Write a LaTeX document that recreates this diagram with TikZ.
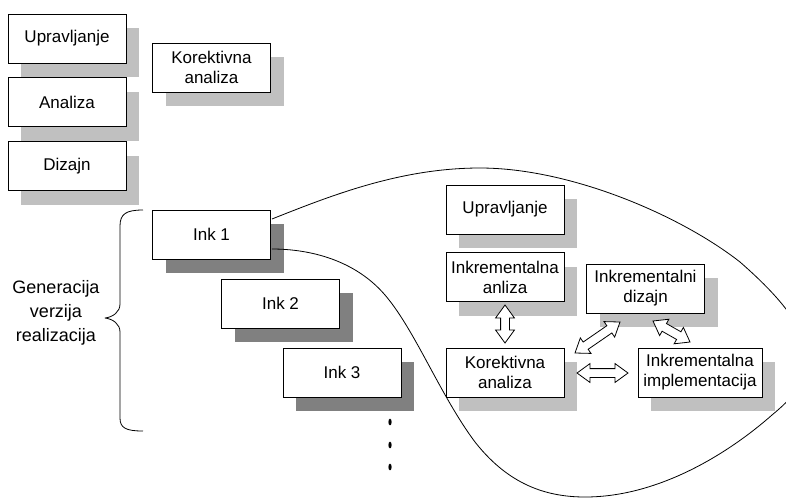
\documentclass[tikz,border=0pt]{standalone}
\usepackage{fontspec}
\setmainfont{Liberation Sans}
\usetikzlibrary{shadows,shapes.arrows,calc}
\definecolor{shadelight}{HTML}{C0C0C0}
\definecolor{shadedark}{HTML}{808080}

% hollow two-headed block arrow between two named points
\newcommand\hollowlink[3]{%
  \path let \p1=($(#3)-(#2)$), \n1={atan2(\y1,\x1)}, \n2={veclen(\x1,\y1)} in
    node[dblarrow, rotate=\n1, minimum height=\n2] (#1) at ($(#2)!0.5!(#3)$) {};}

\begin{document}
\begin{tikzpicture}[x=1pt, y=-1pt,
  boxbase/.style={draw=black, line width=0.9pt, fill=white,
    minimum width=118pt, minimum height=49pt, inner sep=0pt,
    align=center, font=\fontsize{17}{20}\selectfont},
  lightbox/.style={boxbase,
    general shadow={fill=shadelight, shadow xshift=13pt, shadow yshift=-14pt}},
  darkbox/.style={boxbase,
    general shadow={fill=shadedark, shadow xshift=13pt, shadow yshift=-14pt}},
  dblarrow/.style={shape=double arrow, draw=black, fill=white, line width=0.8pt,
    inner xsep=0pt, inner ysep=4pt, minimum width=18pt,
    double arrow head extend=5pt, double arrow tip angle=72},
  outline/.style={line width=0.8pt, line join=round}]

\path[use as bounding box] (0,0) rectangle (786,499);
\clip (0,0) rectangle (786,499);

% phases column
\node[lightbox] (upr)  at (67,38.5)  {Upravljanje};
\node[lightbox] (ana)  at (67,102)   {Analiza};
\node[lightbox] (diz)  at (67,166)   {Dizajn};
\node[lightbox] (kor)  at (211.5,67.5) {Korektivna\\analiza};

% increments
\node[darkbox] (ink1) at (211.5,234.5) {Ink 1};
\node[darkbox] (ink2) at (280.5,303.5) {Ink 2};
\node[darkbox] (ink3) at (342,372.5)   {Ink 3};

% contents of one increment
\node[lightbox] (upr2) at (505,209.5)   {Upravljanje};
\node[lightbox] (ianl) at (505,277)     {Inkrementalna\\anliza};
\node[lightbox] (kor2) at (505,372.5)   {Korektivna\\analiza};
\node[lightbox] (idiz) at (645.5,288.5) {Inkrementalni\\dizajn};
\node[lightbox, minimum width=124pt] (iimp) at (700,372.5) {Inkrementalna\\implementacija};

% arrow end points
\coordinate (v1a) at (505,305);
\coordinate (v1b) at (505,343);
\coordinate (d1a) at (575,353);
\coordinate (d1b) at (620,322);
\coordinate (d2a) at (653,321);
\coordinate (d2b) at (690,342);
\coordinate (h1a) at (577,373);
\coordinate (h1b) at (628,373);

\hollowlink{arrAK}{v1a}{v1b}
\hollowlink{arrKD}{d1a}{d1b}
\hollowlink{arrDI}{d2a}{d2b}
\hollowlink{arrKI}{h1a}{h1b}

% outline enclosing the increment detail
\coordinate (blobA) at ($(ink1.east)+(1,-15.5)$);
\coordinate (blobB) at ($(ink1.east)+(1,14.5)$);
\draw[outline] (blobA)
  .. controls (330,196) and (400,168) .. (480,168)
  .. controls (570,168) and (680,215) .. (740,262)
  .. controls (772,290) and (806,325) .. (806,355)
  .. controls (806,385) and (790,400) .. (772,415)
  .. controls (730,452) and (660,497) .. (585,497)
  .. controls (540,497) and (505,480) .. (475,442)
  .. controls (440,395) and (415,330) .. (385,295)
  .. controls (355,260) and (310,249) .. (blobB);

% brace and its label
\draw[outline] (143,210) .. controls (126,210) and (120,214) .. (120,226)
  -- (120,304) .. controls (120,312) and (113,317) .. (105,318)
  .. controls (113,319) and (120,324) .. (120,332)
  -- (120,418) .. controls (120,428) and (126,431) .. (143,431);
\node[font=\fontsize{18}{24}\selectfont, align=center] (gen) at (56,313)
  {Generacija\\verzija\\realizacija};

% continuation dots
\fill (390,422) ellipse [x radius=1.6pt, y radius=3.4pt];
\fill (390,445) ellipse [x radius=1.6pt, y radius=3.4pt];
\fill (390,467) ellipse [x radius=1.6pt, y radius=3.4pt];

\end{tikzpicture}
\end{document}
